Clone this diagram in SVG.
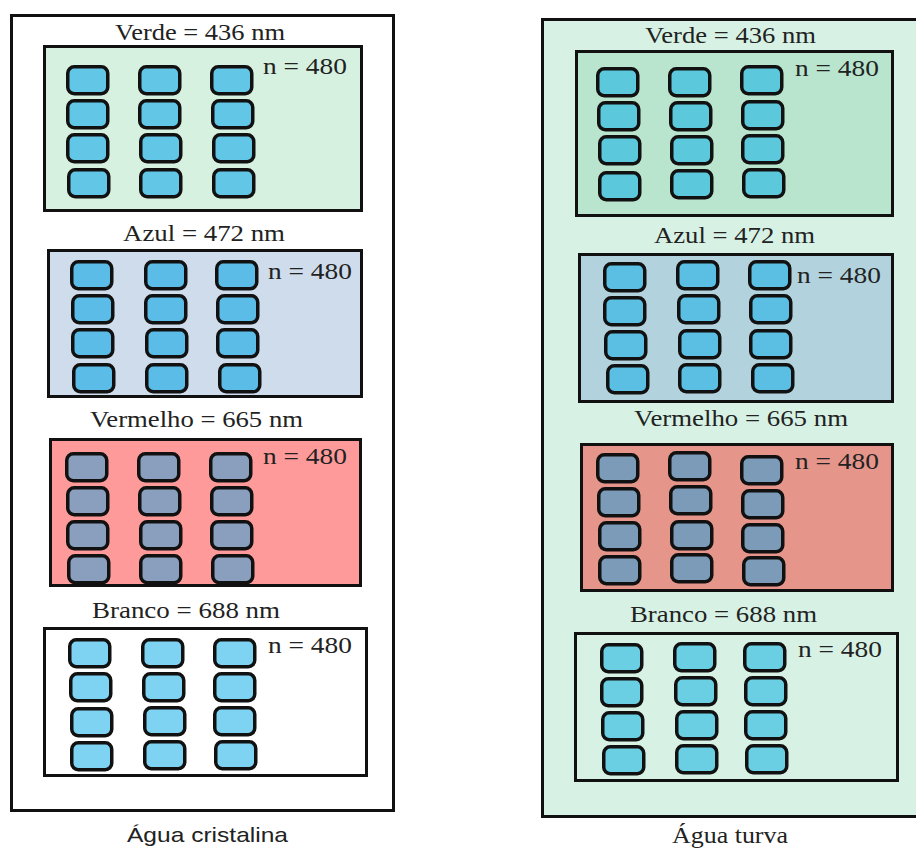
<svg xmlns="http://www.w3.org/2000/svg" xmlns:xlink="http://www.w3.org/1999/xlink" width="916" height="849" viewBox="0 0 916 849">
<style>
.outer{stroke:#111;stroke-width:3}
.panel{stroke:#111;stroke-width:3}
.b{stroke:#111;stroke-width:3.5}
.lbl{font-family:"Liberation Serif","Times New Roman",serif;font-size:23px;fill:#222}
.ttl{font-family:"Liberation Sans",Arial,sans-serif;font-size:21px;fill:#222}
</style>
<defs>
<rect id="bx" x="1.75" y="1.75" width="40" height="27" rx="6.5" ry="6.5" class="b"/>
</defs>
<rect width="916" height="849" fill="#fff"/>

<g id="left-outer">
<rect class="outer" x="11.5" y="15.5" width="382" height="795" fill="#fff"/>
<text class="ttl" x="127" y="842" textLength="161" lengthAdjust="spacingAndGlyphs">Água cristalina</text>
</g>
<g id="right-outer">
<rect class="outer" x="542.5" y="19.5" width="380" height="797" fill="#d7f2e5"/>
<text class="lbl" x="672" y="843" textLength="116" lengthAdjust="spacingAndGlyphs">Água turva</text>
</g>

<g id="left-verde">
<text class="lbl" x="115" y="40" textLength="170" lengthAdjust="spacingAndGlyphs">Verde = 436 nm</text>
<rect class="panel" x="44.5" y="46.5" width="317" height="164" fill="#d7f1e0"/>
<text class="lbl" x="263" y="74" textLength="84" lengthAdjust="spacingAndGlyphs">n = 480</text>
<g fill="#62c6e6">
<use xlink:href="#bx" x="66" y="65"/><use xlink:href="#bx" x="66" y="99"/><use xlink:href="#bx" x="66" y="133"/><use xlink:href="#bx" x="67" y="168"/>
<use xlink:href="#bx" x="138" y="65"/><use xlink:href="#bx" x="138" y="99"/><use xlink:href="#bx" x="139" y="133"/><use xlink:href="#bx" x="139" y="168"/>
<use xlink:href="#bx" x="210" y="65"/><use xlink:href="#bx" x="211" y="99"/><use xlink:href="#bx" x="212" y="133"/><use xlink:href="#bx" x="212" y="168"/>
</g>
</g>

<g id="left-azul">
<text class="lbl" x="123" y="241" textLength="162" lengthAdjust="spacingAndGlyphs">Azul = 472 nm</text>
<rect class="panel" x="48.5" y="250.5" width="313" height="146" fill="#cfdcec"/>
<text class="lbl" x="268" y="279" textLength="84" lengthAdjust="spacingAndGlyphs">n = 480</text>
<g fill="#5cbce8">
<use xlink:href="#bx" x="70" y="260"/><use xlink:href="#bx" x="71" y="294"/><use xlink:href="#bx" x="71" y="328"/><use xlink:href="#bx" x="72" y="363"/>
<use xlink:href="#bx" x="144" y="260"/><use xlink:href="#bx" x="144" y="294"/><use xlink:href="#bx" x="145" y="328"/><use xlink:href="#bx" x="145" y="363"/>
<use xlink:href="#bx" x="215" y="260"/><use xlink:href="#bx" x="216" y="294"/><use xlink:href="#bx" x="216" y="328"/><use xlink:href="#bx" x="218" y="363"/>
</g>
</g>

<g id="left-vermelho">
<text class="lbl" x="90" y="427" textLength="213" lengthAdjust="spacingAndGlyphs">Vermelho = 665 nm</text>
<rect class="panel" x="50.5" y="439.5" width="310" height="146" fill="#fe9b9a"/>
<text class="lbl" x="263" y="464" textLength="84" lengthAdjust="spacingAndGlyphs">n = 480</text>
<g fill="#8a9ebe">
<use xlink:href="#bx" x="65" y="452"/><use xlink:href="#bx" x="66" y="486"/><use xlink:href="#bx" x="66" y="520"/><use xlink:href="#bx" x="67" y="554"/>
<use xlink:href="#bx" x="137" y="452"/><use xlink:href="#bx" x="138" y="486"/><use xlink:href="#bx" x="139" y="520"/><use xlink:href="#bx" x="139" y="554"/>
<use xlink:href="#bx" x="209" y="452"/><use xlink:href="#bx" x="210" y="486"/><use xlink:href="#bx" x="210" y="520"/><use xlink:href="#bx" x="211" y="554"/>
</g>
</g>

<g id="left-branco">
<text class="lbl" x="92" y="618" textLength="188" lengthAdjust="spacingAndGlyphs">Branco = 688 nm</text>
<rect class="panel" x="44.5" y="628.5" width="322" height="147" fill="#fff"/>
<text class="lbl" x="268" y="653" textLength="84" lengthAdjust="spacingAndGlyphs">n = 480</text>
<g fill="#7fd3f2">
<use xlink:href="#bx" x="68" y="638"/><use xlink:href="#bx" x="69" y="672"/><use xlink:href="#bx" x="70" y="707"/><use xlink:href="#bx" x="70" y="741"/>
<use xlink:href="#bx" x="141" y="638"/><use xlink:href="#bx" x="142" y="672"/><use xlink:href="#bx" x="143" y="706"/><use xlink:href="#bx" x="143" y="740"/>
<use xlink:href="#bx" x="213" y="638"/><use xlink:href="#bx" x="213" y="672"/><use xlink:href="#bx" x="213" y="706"/><use xlink:href="#bx" x="214" y="740"/>
</g>
</g>

<g id="right-verde">
<text class="lbl" x="645" y="43" textLength="171" lengthAdjust="spacingAndGlyphs">Verde = 436 nm</text>
<rect class="panel" x="576.5" y="51.5" width="316" height="164" fill="#b9e5cf"/>
<text class="lbl" x="795" y="76" textLength="84" lengthAdjust="spacingAndGlyphs">n = 480</text>
<g fill="#5cc8dc">
<use xlink:href="#bx" x="596" y="67"/><use xlink:href="#bx" x="597" y="101"/><use xlink:href="#bx" x="598" y="135"/><use xlink:href="#bx" x="598" y="171"/>
<use xlink:href="#bx" x="668" y="67"/><use xlink:href="#bx" x="669" y="101"/><use xlink:href="#bx" x="670" y="135"/><use xlink:href="#bx" x="670" y="169"/>
<use xlink:href="#bx" x="740" y="65"/><use xlink:href="#bx" x="741" y="100"/><use xlink:href="#bx" x="741" y="134"/><use xlink:href="#bx" x="742" y="168"/>
</g>
</g>

<g id="right-azul">
<text class="lbl" x="654" y="243" textLength="161" lengthAdjust="spacingAndGlyphs">Azul = 472 nm</text>
<rect class="panel" x="579.5" y="254.5" width="313" height="147" fill="#b2d3dd"/>
<text class="lbl" x="797" y="283" textLength="84" lengthAdjust="spacingAndGlyphs">n = 480</text>
<g fill="#5bbee3">
<use xlink:href="#bx" x="603" y="262"/><use xlink:href="#bx" x="603" y="296"/><use xlink:href="#bx" x="604" y="330"/><use xlink:href="#bx" x="606" y="364"/>
<use xlink:href="#bx" x="676" y="260"/><use xlink:href="#bx" x="677" y="294"/><use xlink:href="#bx" x="678" y="329"/><use xlink:href="#bx" x="678" y="363"/>
<use xlink:href="#bx" x="748" y="260"/><use xlink:href="#bx" x="749" y="294"/><use xlink:href="#bx" x="749" y="329"/><use xlink:href="#bx" x="751" y="363"/>
</g>
</g>

<g id="right-vermelho">
<text class="lbl" x="634" y="426" textLength="214" lengthAdjust="spacingAndGlyphs">Vermelho = 665 nm</text>
<rect class="panel" x="581.5" y="444.5" width="311" height="146" fill="#e6958a"/>
<text class="lbl" x="795" y="469" textLength="84" lengthAdjust="spacingAndGlyphs">n = 480</text>
<g fill="#7b9bb9">
<use xlink:href="#bx" x="596" y="453"/><use xlink:href="#bx" x="597" y="487"/><use xlink:href="#bx" x="598" y="521"/><use xlink:href="#bx" x="598" y="555"/>
<use xlink:href="#bx" x="668" y="451"/><use xlink:href="#bx" x="669" y="485"/><use xlink:href="#bx" x="670" y="520"/><use xlink:href="#bx" x="670" y="553"/>
<use xlink:href="#bx" x="740" y="455"/><use xlink:href="#bx" x="741" y="489"/><use xlink:href="#bx" x="741" y="523"/><use xlink:href="#bx" x="742" y="556"/>
</g>
</g>

<g id="right-branco">
<text class="lbl" x="630" y="622" textLength="187" lengthAdjust="spacingAndGlyphs">Branco = 688 nm</text>
<rect class="panel" x="575.5" y="633.5" width="322" height="147" fill="#d7f2e5"/>
<text class="lbl" x="798" y="657" textLength="84" lengthAdjust="spacingAndGlyphs">n = 480</text>
<g fill="#6bcfe3">
<use xlink:href="#bx" x="600" y="643"/><use xlink:href="#bx" x="600" y="677"/><use xlink:href="#bx" x="601" y="711"/><use xlink:href="#bx" x="602" y="745"/>
<use xlink:href="#bx" x="673" y="642"/><use xlink:href="#bx" x="674" y="676"/><use xlink:href="#bx" x="675" y="710"/><use xlink:href="#bx" x="675" y="744"/>
<use xlink:href="#bx" x="743" y="642"/><use xlink:href="#bx" x="744" y="676"/><use xlink:href="#bx" x="744" y="710"/><use xlink:href="#bx" x="745" y="744"/>
</g>
</g>

<g id="connectors"/>
</svg>
